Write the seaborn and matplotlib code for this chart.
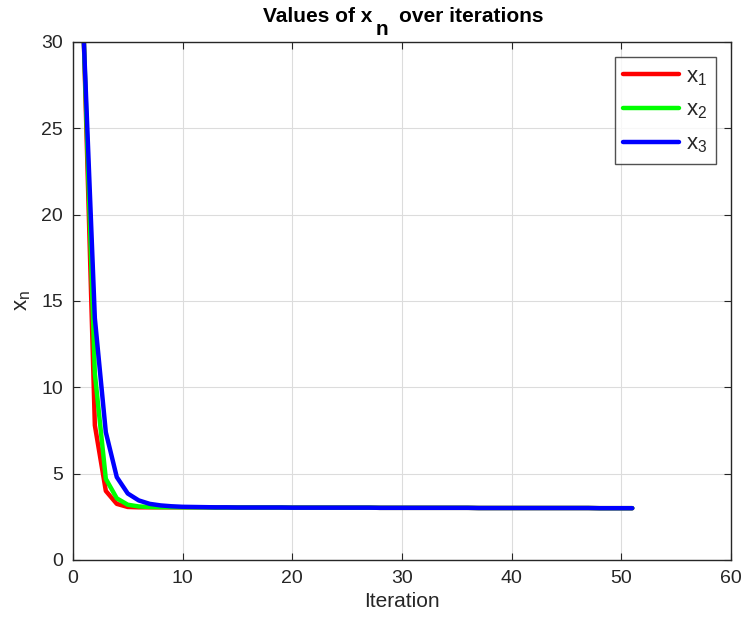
import matplotlib
matplotlib.use("Agg")
import matplotlib.pyplot as plt
import seaborn as sns
import pandas as pd

iterations = list(range(1, 52))
x1_values = [30.0, 7.8, 4.0, 3.25, 3.07, 3.05, 3.05, 3.05, 3.05, 3.05,
             3.05, 3.05, 3.04, 3.04, 3.04, 3.04, 3.04, 3.04, 3.04, 3.03,
             3.03, 3.03, 3.03, 3.03, 3.03, 3.03, 3.03, 3.02, 3.02, 3.02,
             3.02, 3.02, 3.02, 3.02, 3.02, 3.02, 3.01, 3.01, 3.01, 3.01,
             3.01, 3.01, 3.01, 3.01, 3.01, 3.01, 3.01, 3.0, 3.0, 3.0, 3.0]
x2_values = [30.0, 10.8, 4.7, 3.57, 3.2, 3.1, 3.07, 3.06, 3.06, 3.05,
             3.05, 3.05, 3.04, 3.04, 3.04, 3.04, 3.04, 3.04, 3.04, 3.03,
             3.03, 3.03, 3.03, 3.03, 3.03, 3.03, 3.03, 3.02, 3.02, 3.02,
             3.02, 3.02, 3.02, 3.02, 3.02, 3.02, 3.01, 3.01, 3.01, 3.01,
             3.01, 3.01, 3.01, 3.01, 3.01, 3.01, 3.01, 3.0, 3.0, 3.0, 3.0]
x3_values = [30.0, 14.0, 7.4, 4.8, 3.85, 3.45, 3.25, 3.16, 3.11, 3.08,
             3.07, 3.06, 3.05, 3.05, 3.04, 3.04, 3.04, 3.04, 3.04, 3.03,
             3.03, 3.03, 3.03, 3.03, 3.03, 3.03, 3.03, 3.02, 3.02, 3.02,
             3.02, 3.02, 3.02, 3.02, 3.02, 3.02, 3.01, 3.01, 3.01, 3.01,
             3.01, 3.01, 3.01, 3.01, 3.01, 3.01, 3.01, 3.0, 3.0, 3.0, 3.0]
series_names = [r"$\mathregular{x_1}$", r"$\mathregular{x_2}$", r"$\mathregular{x_3}$"]
series_colors = ["#ff0000", "#00ff00", "#0000ff"]
title_parts = ["Values of x", "n", "over iterations"]

df = pd.DataFrame({
    "Iteration": iterations * 3,
    "value": x1_values + x2_values + x3_values,
    "series": [series_names[0]] * 51 + [series_names[1]] * 51 + [series_names[2]] * 51,
})

sns.set_theme(style="white")
plt.rcParams["font.family"] = ["Liberation Sans", "DejaVu Sans"]
plt.rcParams["mathtext.default"] = "regular"

W, H = 744, 624
fig = plt.figure(figsize=(W / 100, H / 100), dpi=100)
ax = fig.add_axes([0.098, 0.1026, 0.8845, 0.8301])

sns.lineplot(data=df, x="Iteration", y="value", hue="series",
             palette=dict(zip(series_names, series_colors)),
             linewidth=3.2, ax=ax, legend=True)

ax.set_xlim(0, 60)
ax.set_ylim(0, 30)
ax.set_xticks([0, 10, 20, 30, 40, 50, 60])
ax.set_yticks([0, 5, 10, 15, 20, 25, 30])
ax.grid(True, color="#dcdcdc", linewidth=0.8)
ax.set_axisbelow(True)
for s in ax.spines.values():
    s.set_color("#262626")
    s.set_linewidth(1.0)
ax.tick_params(direction="in", length=5, width=0.8, color="#262626",
               labelsize=14, labelcolor="#262626", top=True, right=True,
               bottom=True, left=True, pad=7)
ax.set_xlabel("Iteration", fontsize=15, color="#262626", labelpad=4)
ax.set_ylabel(r"$\mathregular{x_n}$", fontsize=16, color="#262626", labelpad=6)

leg = ax.legend(loc="upper right", fontsize=16, frameon=True, fancybox=False,
                edgecolor="#262626", handlelength=2.5, handletextpad=0.3,
                borderpad=0.4, borderaxespad=0.0, labelspacing=0.55,
                bbox_to_anchor=(0.977, 0.971))
leg.get_frame().set_linewidth(1.0)
for h in leg.get_lines():
    h.set_linewidth(3.2)

# Title with MATLAB-style full-size, strongly dropped subscript
tfs = 15
texts = [fig.text(0, 0, p, fontsize=tfs, fontweight="bold", color="black",
                  ha="left", va="baseline") for p in title_parts]
fig.canvas.draw()
r = fig.canvas.get_renderer()
widths = [t.get_window_extent(r).width for t in texts]
gap1, gap2 = 4, 10
total = widths[0] + gap1 + widths[1] + gap2 + widths[2]
x0 = 403 - total / 2
base = H - 22
drop = 13
xs = [x0, x0 + widths[0] + gap1, x0 + widths[0] + gap1 + widths[1] + gap2]
ys = [base, base - drop, base]
for t, xx, yy in zip(texts, xs, ys):
    t.set_position((xx / W, yy / H))

fig.savefig("out.png", dpi=100)
